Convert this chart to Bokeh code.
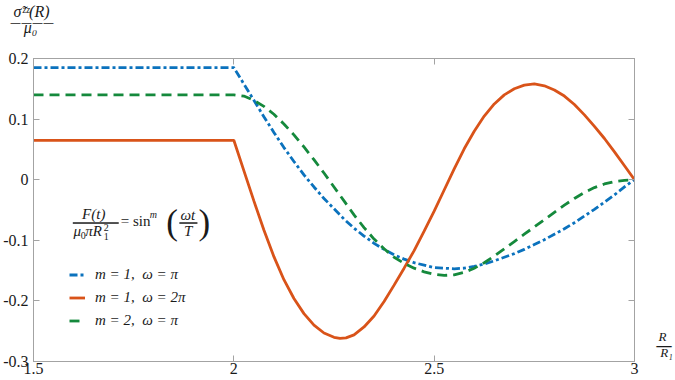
from bokeh.plotting import figure
from bokeh.models import Label, BoxAnnotation, Legend, LegendItem, LinearAxis, FixedTicker, Range1d
from bokeh.embed import file_html
from bokeh.resources import INLINE

# ---------------- data ----------------
x_ticks = [1.5, 2, 2.5, 3]
x_tick_labels = ["1.5", "2", "2.5", "3"]
y_ticks = [-0.3, -0.2, -0.1, 0, 0.1, 0.2]
y_tick_labels = ["-0.3", "-0.2", "-0.1", "0", "0.1", "0.2"]

# m = 1, omega = pi
x_m1_pi = [1.5, 2.0, 2.025, 2.05, 2.075, 2.1, 2.125, 2.15, 2.175, 2.2, 2.225, 2.25, 2.275, 2.3,
           2.325, 2.35, 2.375, 2.4, 2.425, 2.45, 2.475, 2.5, 2.525, 2.55, 2.575, 2.6, 2.625,
           2.65, 2.675, 2.7, 2.725, 2.75, 2.775, 2.8, 2.825, 2.85, 2.875, 2.9, 2.925, 2.95,
           2.975, 3.0]
y_m1_pi = [0.185, 0.185, 0.158, 0.131, 0.104, 0.078, 0.053, 0.030, 0.008, -0.012, -0.031,
           -0.048, -0.065, -0.080, -0.093, -0.105, -0.115, -0.124, -0.131, -0.137, -0.141,
           -0.145, -0.146, -0.147, -0.146, -0.143, -0.139, -0.134, -0.128, -0.122, -0.115,
           -0.107, -0.099, -0.090, -0.081, -0.071, -0.060, -0.049, -0.037, -0.025, -0.012, 0.0]

# m = 1, omega = 2 pi
x_m1_2pi = [1.5, 2.0, 2.025, 2.05, 2.075, 2.1, 2.125, 2.15, 2.175, 2.2, 2.225, 2.25, 2.265,
            2.28, 2.3, 2.325, 2.35, 2.375, 2.4, 2.425, 2.45, 2.475, 2.5, 2.525, 2.55, 2.575,
            2.6, 2.625, 2.65, 2.675, 2.7, 2.725, 2.75, 2.775, 2.8, 2.825, 2.85, 2.875, 2.9,
            2.925, 2.95, 2.975, 3.0]
y_m1_2pi = [0.065, 0.065, 0.015, -0.035, -0.083, -0.127, -0.165, -0.196, -0.221, -0.240,
            -0.253, -0.260, -0.262, -0.261, -0.256, -0.243, -0.225, -0.201, -0.174, -0.146,
            -0.117, -0.085, -0.052, -0.017, 0.018, 0.051, 0.080, 0.105, 0.125, 0.140, 0.150,
            0.156, 0.158, 0.155, 0.148, 0.138, 0.124, 0.107, 0.088, 0.068, 0.046, 0.023, 0.0]

# m = 2, omega = pi
x_m2_pi = [1.5, 2.0, 2.025, 2.05, 2.075, 2.1, 2.125, 2.15, 2.175, 2.2, 2.225, 2.25, 2.275, 2.3,
           2.325, 2.35, 2.375, 2.4, 2.425, 2.45, 2.475, 2.5, 2.525, 2.55, 2.575, 2.6, 2.625,
           2.65, 2.675, 2.7, 2.725, 2.75, 2.775, 2.8, 2.825, 2.85, 2.875, 2.9, 2.925, 2.95,
           2.975, 3.0]
y_m2_pi = [0.140, 0.140, 0.138, 0.131, 0.121, 0.108, 0.092, 0.074, 0.054, 0.033, 0.011,
           -0.012, -0.035, -0.058, -0.079, -0.098, -0.114, -0.128, -0.138, -0.146, -0.152,
           -0.156, -0.158, -0.157, -0.153, -0.146, -0.137, -0.126, -0.114, -0.102, -0.090,
           -0.078, -0.066, -0.054, -0.042, -0.031, -0.021, -0.013, -0.007, -0.003, -0.001, 0.0]

legend_labels = ["m = 1,  ω = π", "m = 1,  ω = 2π", "m = 2,  ω = π"]
y_title_num, y_title_den = "σ̃ᶻᶻ(R)", "μ₀"
x_title_num, x_title_den = "R", "R₁"

# ---------------- style ----------------
BLUE = "#0b72bd"
ORANGE = "#d95319"
GREEN = "#15893c"
GRAY = "#a3a3a3"
TXT = "#1a1a1a"
SERIF = "Liberation Serif"

p = figure(width=675, height=380, output_backend="svg", toolbar_location=None,
           x_range=Range1d(1.5, 3), y_range=Range1d(-0.3, 0.2),
           x_axis_location=None, y_axis_location=None,
           min_border_left=31, min_border_right=41, min_border_top=58, min_border_bottom=19)
p.outline_line_color = GRAY
p.background_fill_color = "white"
p.border_fill_color = "white"
p.grid.grid_line_color = None


def make_axis(ticks, labels, show):
    ax = LinearAxis(ticker=FixedTicker(ticks=ticks))
    ax.major_label_overrides = {(int(t) if float(t).is_integer() else t): (l if show else "")
                                for t, l in zip(ticks, labels)}
    ax.axis_line_color = GRAY
    ax.major_tick_line_color = GRAY
    ax.major_tick_in = 6
    ax.major_tick_out = 0
    ax.minor_tick_line_color = None
    ax.major_label_text_font = SERIF
    ax.major_label_text_font_size = "16px" if show else "0px"
    ax.major_label_text_color = TXT
    if not show:
        ax.major_label_standoff = 0
    return ax


bx = make_axis(x_ticks, x_tick_labels, True)
bx.major_label_standoff = 1
p.add_layout(bx, "below")
ly = make_axis(y_ticks, y_tick_labels, True)
ly.major_label_standoff = 5
p.add_layout(ly, "left")
p.add_layout(make_axis(x_ticks, x_tick_labels, False), "above")
p.add_layout(make_axis(y_ticks, y_tick_labels, False), "right")

r1 = p.line(x_m1_pi, y_m1_pi, line_color=BLUE, line_width=2.8, line_dash="8 3 3 3")
r2 = p.line(x_m1_2pi, y_m1_2pi, line_color=ORANGE, line_width=2.8)
r3 = p.line(x_m2_pi, y_m2_pi, line_color=GREEN, line_width=2.8, line_dash="10 6")

legend = Legend(items=[LegendItem(label=legend_labels[0], renderers=[r1]),
                       LegendItem(label=legend_labels[1], renderers=[r2]),
                       LegendItem(label=legend_labels[2], renderers=[r3])],
                location=(36, 31), glyph_width=16, glyph_height=19, label_height=19,
                spacing=4, label_standoff=10, padding=0, margin=0,
                border_line_color=None, background_fill_alpha=0,
                label_text_font=SERIF, label_text_font_style="italic",
                label_text_font_size="15px", label_text_color=TXT)
p.add_layout(legend)


def lab(text, x, y, dx=0, dy=0, size=15, style="italic", align="left", font=SERIF, side=None):
    l = Label(x=x, y=y, x_offset=dx, y_offset=dy, text=text, text_font=font,
              text_font_size=f"{size}px", text_font_style=style, text_align=align,
              text_baseline="middle", text_color=TXT)
    if side is None:
        p.add_layout(l)
    else:
        p.add_layout(l, side)


def bar(x0, x1, y):
    p.add_layout(BoxAnnotation(left=x0, right=x1, top=y, bottom=y, fill_color=None,
                               line_color=TXT, line_alpha=1, line_width=1))


# formula  F(t)/(mu0 pi R1^2) = sin^m(omega t / T)   (inside the frame)
fx, fy = 1.6554, -0.0715
lab("F(t)", fx, fy, -2, 9, align="center")
bar(1.5982, 1.7126, fy)
lab("μ", fx, fy, -22.3, -7.6)
lab("0", fx, fy, -15, -12.3, size=10, style="normal")
lab("πR", fx, fy, -10.5, -7.6)
lab("2", fx, fy, 8, -4.3, size=10, style="normal")
lab("1", fx, fy, 8, -13.6, size=10, style="normal")
lab("= sin", fx, fy, 25, 2.3, style="normal")
lab("m", fx, fy, 54, 8.7, size=10)
lab("(", fx, fy, 70.5, 0.3, size=35, style="normal")
lab("ωt", fx, fy, 92, 7.9, align="center")
bar(1.8642, 1.9090, fy)
lab("T", fx, fy, 92.5, -7.6, align="center")
lab(")", fx, fy, 102.7, 0.3, size=35, style="normal")

# y-axis title (outside the frame -> placed in the "above" side panel)
yx, yy = 1.4963, 0.2579
lab(y_title_num, yx, yy, -0.5, 12.1, size=16, align="center", side="above")
lab("————", yx, yy, 0, 0.5, size=11, style="normal", align="center", font="DejaVu Sans",
    side="above")
lab(y_title_den, yx, yy, -1.4, -4.2, size=16, align="center", side="above")

# x-axis title (outside the frame -> placed in the "right" side panel)
xx, xy = 3.0735, -0.2739
lab(x_title_num, xx, xy, -1.5, 9.4, size=13, align="center", side="right")
lab("—", xx, xy, 0, 0.5, size=17, style="normal", align="center", font="DejaVu Sans",
    side="right")
lab(x_title_den, xx, xy, 2.5, -6.6, size=13, align="center", side="right")

open("out.html", "w").write(file_html(p, INLINE))
